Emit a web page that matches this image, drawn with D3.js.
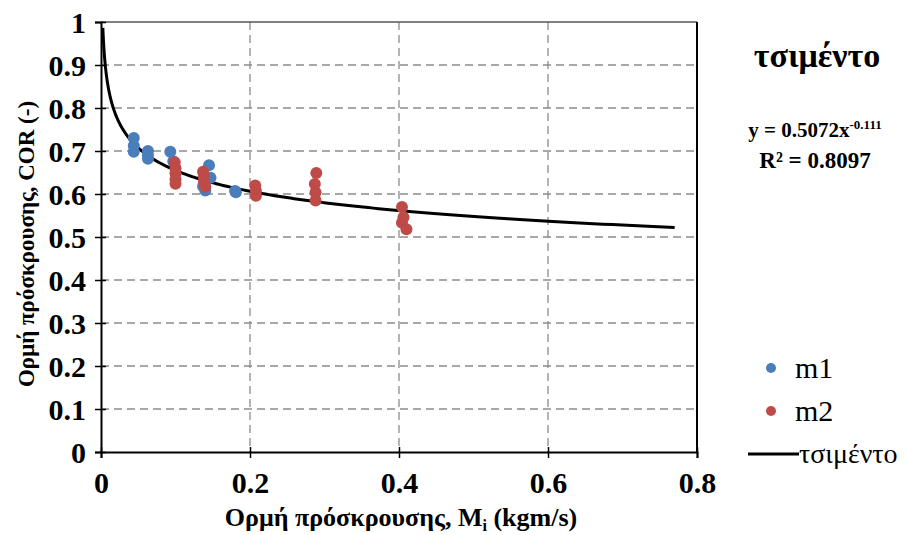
<!DOCTYPE html>
<html>
<head>
<meta charset="utf-8">
<script src="https://cdn.jsdelivr.net/npm/d3@7"></script>
<style>
  body { margin: 0; background: #fff; }
  svg { display: block; font-family: "Liberation Serif", "Times New Roman", serif; }
  svg text { font-family: "Liberation Serif", "Times New Roman", serif; }
</style>
</head>
<body>
<div id="chart"></div>
<script>
// --- Data ---
const m1X = [0.044, 0.044, 0.044, 0.063, 0.063, 0.063, 0.093, 0.097, 0.137, 0.140, 0.145, 0.147, 0.180, 0.181];
const m1Y = [0.730, 0.712, 0.698, 0.700, 0.690, 0.682, 0.698, 0.676, 0.618, 0.608, 0.667, 0.638, 0.607, 0.604];

const m2X = [0.099, 0.100, 0.100, 0.100, 0.100, 0.137, 0.138, 0.138, 0.140, 0.207, 0.208, 0.208, 0.289, 0.287, 0.288, 0.288, 0.404, 0.406, 0.404, 0.410];
const m2Y = [0.674, 0.660, 0.648, 0.634, 0.624, 0.652, 0.640, 0.628, 0.617, 0.620, 0.607, 0.596, 0.649, 0.623, 0.604, 0.585, 0.570, 0.546, 0.533, 0.518];

// power trendline printed on the chart: y = 0.5072 x^-0.111
const trendA = 0.5072;
const trendB = -0.111;
const trendRange = [0.0025, 0.77];

const xTicks = [0, 0.2, 0.4, 0.6, 0.8];
const yTicks = [0, 0.1, 0.2, 0.3, 0.4, 0.5, 0.6, 0.7, 0.8, 0.9, 1];

const seriesNames = ["m1", "m2", "τσιμέντο"];
const seriesColors = { m1: "#4a7ebb", m2: "#be4b48" };

// --- Dimensions ---
const width = 907;
const height = 535;
const plot = { left: 101, right: 697, top: 22, bottom: 452 };

const svg = d3.select("#chart").append("svg")
  .attr("width", width)
  .attr("height", height);

// --- Scales ---
const x = d3.scaleLinear().domain([0, 0.8]).range([plot.left, plot.right]);
const y = d3.scaleLinear().domain([0, 1]).range([plot.bottom, plot.top]);

// Gridlines
const grid = svg.append("g");
grid.selectAll("line.h")
  .data(yTicks.filter(d => d > 0 && d < 1))
  .join("line")
  .attr("x1", plot.left).attr("x2", plot.right)
  .attr("y1", d => y(d)).attr("y2", d => y(d))
  .attr("stroke", "#8c8c8c")
  .attr("stroke-width", 1.3)
  .attr("stroke-dasharray", "8,5");
grid.selectAll("line.v")
  .data(xTicks.filter(d => d > 0 && d < 0.8))
  .join("line")
  .attr("x1", d => x(d)).attr("x2", d => x(d))
  .attr("y1", plot.top).attr("y2", plot.bottom)
  .attr("stroke", "#8c8c8c")
  .attr("stroke-width", 1.3)
  .attr("stroke-dasharray", "8,5");

// top and right frame
svg.append("line")
  .attr("x1", plot.left).attr("x2", plot.right)
  .attr("y1", plot.top).attr("y2", plot.top)
  .attr("stroke", "#555").attr("stroke-width", 1.3);
svg.append("line")
  .attr("x1", plot.right).attr("x2", plot.right)
  .attr("y1", plot.top).attr("y2", plot.bottom)
  .attr("stroke", "#000").attr("stroke-width", 2);

// --- Axes ---
const xAxis = svg.append("g")
  .attr("transform", `translate(0,${plot.bottom})`)
  .call(d3.axisBottom(x).tickValues(xTicks).tickSize(6).tickPadding(14).tickFormat(d => d === 0 ? "0" : d3.format(".1f")(d)));
const yAxis = svg.append("g")
  .attr("transform", `translate(${plot.left},0)`)
  .call(d3.axisLeft(y).tickValues(yTicks).tickSize(6).tickPadding(9).tickFormat(d => (d === 0 || d === 1) ? String(d) : d3.format(".1f")(d)));

[xAxis, yAxis].forEach(a => {
  a.attr("font-family", null).attr("font-size", null);
  a.select(".domain").attr("stroke", "#000").attr("stroke-width", 2);
  a.selectAll(".tick line").attr("stroke", "#000").attr("stroke-width", 1.5);
  a.selectAll(".tick text")
    .attr("fill", "#000")
    .attr("font-weight", "bold")
    .attr("font-size", 30);
});
// ticks cross the axis line
xAxis.selectAll(".tick line").attr("y1", -5);
yAxis.selectAll(".tick line").attr("x1", 5);
yAxis.selectAll(".tick text").attr("dy", "0.34em");

// --- Trendline ---
const trendPts = d3.range(0, 301).map(i => {
  const t = i / 300;
  const xv = trendRange[0] * Math.pow(trendRange[1] / trendRange[0], t);
  return [xv, trendA * Math.pow(xv, trendB)];
});
svg.append("path")
  .datum(trendPts)
  .attr("fill", "none")
  .attr("stroke", "#000")
  .attr("stroke-width", 3)
  .attr("d", d3.line().x(d => x(d[0])).y(d => y(d[1])));

// --- Points ---
const m1 = m1X.map((v, i) => ({ x: v, y: m1Y[i] }));
const m2 = m2X.map((v, i) => ({ x: v, y: m2Y[i] }));

svg.append("g").selectAll("circle")
  .data(m1).join("circle")
  .attr("cx", d => x(d.x)).attr("cy", d => y(d.y)).attr("r", 6)
  .attr("fill", seriesColors.m1);
svg.append("g").selectAll("circle")
  .data(m2).join("circle")
  .attr("cx", d => x(d.x)).attr("cy", d => y(d.y)).attr("r", 6)
  .attr("fill", seriesColors.m2);

// --- Axis titles ---
const xTitle = svg.append("text")
  .attr("x", 401)
  .attr("y", 526)
  .attr("text-anchor", "middle")
  .attr("font-size", 26)
  .attr("font-weight", "bold");
xTitle.append("tspan").text("Ορμή πρόσκρουσης, M");
xTitle.append("tspan").attr("font-size", 16).attr("dy", 5).text("i");
xTitle.append("tspan").attr("dy", -5).text(" (kgm/s)");

svg.append("text")
  .attr("transform", `translate(34,244) rotate(-90)`)
  .attr("text-anchor", "middle")
  .attr("font-size", 23)
  .attr("font-weight", "bold")
  .text("Ορμή πρόσκρουσης, COR (-)");

// --- Title and equation ---
svg.append("text")
  .attr("x", 817).attr("y", 67)
  .attr("text-anchor", "middle")
  .attr("font-size", 34)
  .attr("font-weight", "bold")
  .text("τσιμέντο");

const eq = svg.append("text")
  .attr("x", 815).attr("y", 137)
  .attr("text-anchor", "middle")
  .attr("font-size", 21)
  .attr("font-weight", "bold");
eq.append("tspan").text(`y = ${trendA}x`);
eq.append("tspan").attr("font-size", 13).attr("dy", -8).text(`${trendB}`);

svg.append("text")
  .attr("x", 815).attr("y", 168)
  .attr("text-anchor", "middle")
  .attr("font-size", 23)
  .attr("font-weight", "bold")
  .text("R² = 0.8097");

// --- Legend ---
const legend = svg.append("g");
const legendY = [368, 411, 454];
seriesNames.forEach((name, i) => {
  const row = legend.append("g").attr("transform", `translate(0,${legendY[i]})`);
  if (seriesColors[name]) {
    row.append("circle").attr("cx", 771).attr("cy", 0).attr("r", 5).attr("fill", seriesColors[name]);
    row.append("text").attr("x", 795).attr("y", 10).attr("font-size", 30).text(name);
  } else {
    row.append("line").attr("x1", 748).attr("x2", 799).attr("y1", 0).attr("y2", 0)
      .attr("stroke", "#000").attr("stroke-width", 3);
    row.append("text").attr("x", 799).attr("y", 9).attr("font-size", 28).text(name);
  }
});
</script>
</body>
</html>
